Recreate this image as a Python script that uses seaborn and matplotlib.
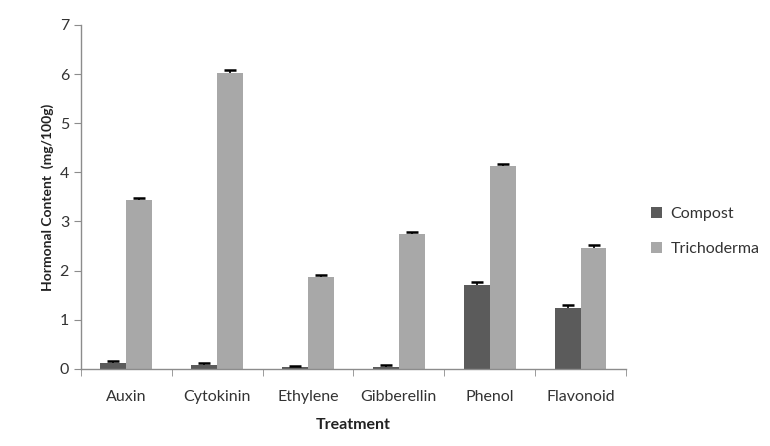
import numpy as np
import pandas as pd
import matplotlib
matplotlib.use("Agg")
import matplotlib.pyplot as plt
import seaborn as sns
from matplotlib.ticker import FixedLocator

treatments = ["Auxin", "Cytokinin", "Ethylene", "Gibberellin", "Phenol", "Flavonoid"]
compost = [0.12, 0.07, 0.03, 0.03, 1.70, 1.23]
trichoderma = [3.43, 6.03, 1.86, 2.75, 4.12, 2.47]
compost_err = [0.03, 0.05, 0.02, 0.04, 0.06, 0.06]
trichoderma_err = [0.05, 0.05, 0.05, 0.03, 0.05, 0.06]

df = pd.DataFrame({
    "Treatment": treatments * 2,
    "Value": compost + trichoderma,
    "Err": compost_err + trichoderma_err,
    "Group": ["Compost"] * 6 + ["Trichoderma"] * 6,
})

sns.set_style("white")
plt.rcParams['font.family'] = ['Lato', 'DejaVu Sans']

fig = plt.figure(figsize=(7.7, 4.46), dpi=100)
ax = fig.add_axes([0.105, 0.173, 0.708, 0.771])

palette = {"Compost": "#5b5b5b", "Trichoderma": "#a8a8a8"}
sns.barplot(data=df, x="Treatment", y="Value", hue="Group", palette=palette,
            errorbar=None, width=0.57, saturation=1, ax=ax, linewidth=0)

# one-sided error bars like Excel (upper cap only)
for cont, grp in zip(list(ax.containers), ["Compost", "Trichoderma"]):
    sub = df[df["Group"] == grp]
    xs = [b.get_x() + b.get_width() / 2 for b in cont]
    eb = ax.errorbar(xs, sub["Value"].values,
                     yerr=[np.zeros(len(sub)), sub["Err"].values],
                     fmt="none", ecolor="black", elinewidth=1.2, capsize=4, capthick=1.8)
    eb[1][0].set_visible(False)

ax.set_ylim(0, 7)
ax.set_xlim(-0.5, 5.5)
ax.set_yticks(range(0, 8))
ax.set_xlabel("Treatment", fontsize=11.5, fontweight="bold", color="#222222", labelpad=10)
ax.set_ylabel("Hormonal Content  (mg/100g)", fontsize=10, fontweight="bold", color="#222222")

for s in ["top", "right"]:
    ax.spines[s].set_visible(False)
for s in ["left", "bottom"]:
    ax.spines[s].set_color("#8c8c8c")
    ax.spines[s].set_linewidth(1)

ax.xaxis.set_minor_locator(FixedLocator(np.arange(-0.5, 6, 1)))
ax.tick_params(axis="x", which="major", length=0, labelsize=11.5, labelcolor="#333333", pad=15)
ax.tick_params(axis="x", which="minor", length=5, color="#8c8c8c", direction="out", bottom=True)
ax.tick_params(axis="y", length=5, color="#8c8c8c", direction="out", left=True,
               labelsize=11.5, labelcolor="#333333")

leg = ax.legend(loc="center left", bbox_to_anchor=(1.02, 0.40), frameon=False,
                fontsize=11.5, handlelength=0.7, handleheight=0.7, labelspacing=1.3,
                handletextpad=0.5)
for t in leg.get_texts():
    t.set_color("#333333")

fig.savefig("out.png", dpi=100)
